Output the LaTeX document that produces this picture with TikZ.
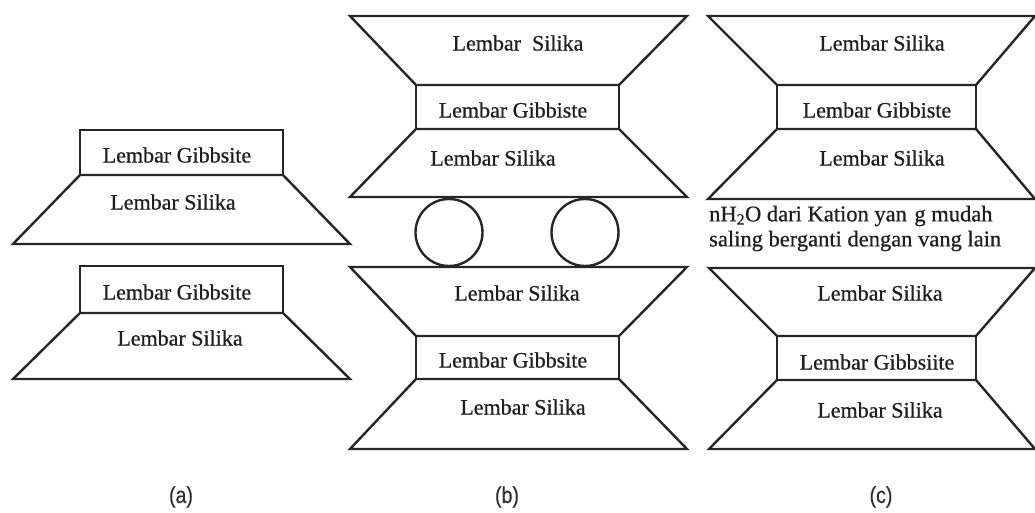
\documentclass[tikz,border=0pt]{standalone}
\usepackage{fontspec}
\setmainfont{Liberation Serif}[FakeBold=0.7]
\newfontfamily\capfont{Liberation Sans}[FakeBold=0.5]
\begin{document}
\begin{tikzpicture}[x=1pt,y=-1pt,
  sheet/.style={draw=black!85,line width=2.4pt,line join=miter},
  lbl/.style={text=black!88,font=\fontsize{22}{26}\selectfont,inner sep=0pt},
  note/.style={text=black!88,font=\fontsize{22.5}{25}\selectfont,inner sep=0pt,anchor=west},
  figcap/.style={text=black!82,font=\capfont\fontsize{23}{26}\selectfont,inner sep=0pt,xscale=0.85}]
\useasboundingbox (0,0) rectangle (1035,513);
\begin{scope}
\clip (0,0) rectangle (1035,513);

% ---------- (a): two separate gibbsite/silica units ----------
\draw[sheet] (80,130) rectangle (283,175);
\draw[sheet] (80,175) -- (283,175) -- (350,244) -- (13,244) -- cycle;
\node[lbl] (a1g) at (177,155) {Lembar Gibbsite};
\node[lbl] (a1s) at (173,202) {Lembar Silika};

\draw[sheet] (80,266) rectangle (283,313);
\draw[sheet] (80,313) -- (283,313) -- (350,379) -- (13,379) -- cycle;
\node[lbl] (a2g) at (177,292) {Lembar Gibbsite};
\node[lbl] (a2s) at (180,338) {Lembar Silika};

% ---------- (b): two silica-gibbsite-silica units with ions between ----------
\draw[sheet] (350,16) -- (687,16) -- (619,85) -- (416,85) -- cycle;
\draw[sheet] (416,85) rectangle (619,129);
\draw[sheet] (416,129) -- (619,129) -- (687,197) -- (350,197) -- cycle;
\node[lbl] (b1t) at (518,43) {Lembar~ Silika};
\node[lbl] (b1g) at (513,110) {Lembar Gibbiste};
\node[lbl] (b1s) at (493,158) {Lembar Silika};

\draw[sheet] (449,232.5) circle (33.5);
\draw[sheet] (585,232.5) circle (33.5);

\draw[sheet] (350,267) -- (687,267) -- (619,336) -- (416,336) -- cycle;
\draw[sheet] (416,336) rectangle (619,379);
\draw[sheet] (416,379) -- (619,379) -- (687,449) -- (350,449) -- cycle;
\node[lbl] (b2t) at (517,293) {Lembar Silika};
\node[lbl] (b2g) at (513,360) {Lembar Gibbsite};
\node[lbl] (b2s) at (523,407) {Lembar Silika};

% ---------- (c): units separated by water and exchangeable cations ----------
\draw[sheet] (708,16) -- (1035,16) -- (976,85) -- (777,85) -- cycle;
\draw[sheet] (777,85) rectangle (976,129);
\draw[sheet] (777,129) -- (976,129) -- (1035,199) -- (708,199) -- cycle;
\node[lbl] (c1t) at (882,43) {Lembar Silika};
\node[lbl] (c1g) at (877,110) {Lembar Gibbiste};
\node[lbl] (c1s) at (882,158) {Lembar Silika};

\node[note] (w1) at (709,216) {nH\textsubscript{2}O dari Kation yan\,\,g mudah};
\node[note] (w2) at (709,241) {saling berganti dengan vang lain};

\draw[sheet] (709,268) -- (1035,268) -- (976,336) -- (777,336) -- cycle;
\draw[sheet] (777,336) rectangle (976,380);
\draw[sheet] (777,380) -- (976,380) -- (1035,449) -- (709,449) -- cycle;
\node[lbl] (c2t) at (880,293) {Lembar Silika};
\node[lbl] (c2g) at (877,362) {Lembar Gibbsiite};
\node[lbl] (c2s) at (880,410) {Lembar Silika};
\end{scope}

% ---------- captions ----------
\node[figcap] (ca) at (181,497) {(a)};
\node[figcap] (cb) at (507,497) {(b)};
\node[figcap] (cc) at (881,497) {(c)};
\end{tikzpicture}
\end{document}
